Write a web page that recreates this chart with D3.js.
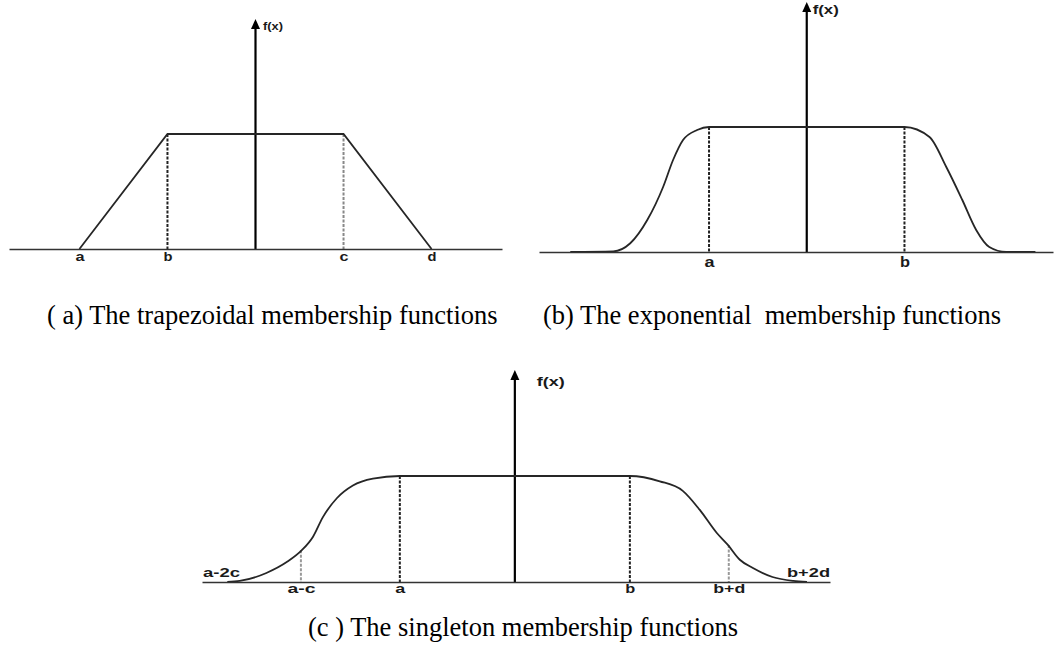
<!DOCTYPE html>
<html>
<head>
<meta charset="utf-8">
<script src="https://cdn.jsdelivr.net/npm/d3@7"></script>
<style>
  body { margin: 0; background: #fff; }
  svg { display: block; }
  .caption { font-family: "Times New Roman", "Liberation Serif", serif; font-size: 26.5px; fill: #000; white-space: pre; }
  .lbl { font-family: Arial, "Liberation Sans", sans-serif; fill: #1a1a1a; font-weight: bold; }
</style>
</head>
<body>
<div id="wrapper"></div>
<script>
// (a) trapezoidal membership function
const trapBreaks = [-10, -5, 5, 10];
const trapValues = [0, 1, 1, 0];
const trapTicks = ['a', 'b', 'c', 'd'];

// (b) exponential membership function
const expX = [-12.1, -9.9, -9.03, -8.16, -7.35, -6.84, -6.33, -5.61, -5,
  5, 6.28, 7.14, 7.96, 8.67, 9.34, 10.2, 11.7];
const expY = [0, 0.005, 0.07, 0.256, 0.52, 0.736, 0.896, 0.976, 1,
  1, 0.92, 0.68, 0.416, 0.176, 0.04, 0, 0];
const expTickX = [-5, 5];
const expTicks = ['a', 'b'];

// (c) singleton membership function
const singX = [-12.5, -11.96, -10.8, -9.9, -9.26, -8.78, -8.35, -7.74, -7.04, -6.17, -5,
  5, 6.3, 7.3, 8.04, 8.78, 9.26, 9.78, 10.35, 11.2, 12.1, 12.7];
const singY = [0, 0.01, 0.085, 0.19, 0.30, 0.425, 0.61, 0.79, 0.91, 0.975, 1,
  1, 0.95, 0.86, 0.68, 0.462, 0.35, 0.21, 0.132, 0.047, 0.01, 0];
const singTickX = [-9.3, -5, 5, 9.3];
const singTicks = ['a-c', 'a', 'b', 'b+d'];
const singGuideTop = [0.30, 1, 1, 0.35];
const singEnds = ['a-2c', 'b+2d'];

const captions = [
  '( a) The trapezoidal membership functions',
  '(b) The exponential  membership functions',
  '(c ) The singleton membership functions',
];

const width = 1057;
const height = 651;

const svg = d3
  .select('#wrapper')
  .append('svg')
  .attr('width', width)
  .attr('height', height);

svg.append('rect').attr('width', width).attr('height', height).attr('fill', '#fff');

// draws axes + curve + guides for one panel
function drawPanel(p) {
  const xScale = d3.scaleLinear().domain(p.xDomain).range(p.xRange);
  const yScale = d3.scaleLinear().domain([0, 1]).range(p.yRange);
  const g = svg.append('g');

  // vertical axis with arrow
  const x0 = xScale(0);
  const top = yScale(2);
  g.append('line')
    .attr('x1', x0).attr('x2', x0)
    .attr('y1', yScale(0)).attr('y2', top + 6)
    .attr('stroke', '#000')
    .attr('stroke-width', 2.2);
  const arrow = d3.path();
  arrow.moveTo(x0, top);
  arrow.lineTo(x0 - 4.5, top + 10);
  arrow.lineTo(x0 + 4.5, top + 10);
  arrow.closePath();
  g.append('path').attr('d', arrow.toString()).attr('fill', '#000');

  g.append('text')
    .attr('class', 'lbl')
    .attr('x', x0 + p.fxDx)
    .attr('y', top + p.fxDy)
    .attr('font-size', p.fxSize)
    .attr('font-weight', 'normal')
    .attr('textLength', p.fxLen)
    .attr('lengthAdjust', 'spacingAndGlyphs')
    .text('f(x)');

  // dashed guides
  g.selectAll('.guide')
    .data(p.guides)
    .join('line')
    .attr('x1', (d) => xScale(d.x))
    .attr('x2', (d) => xScale(d.x))
    .attr('y1', (d) => yScale(d.top))
    .attr('y2', yScale(0))
    .attr('stroke', (d) => d.color)
    .attr('stroke-width', 2)
    .attr('stroke-dasharray', '3,1.5');

  // membership curve
  const lineGenerator = d3
    .line()
    .x((d) => xScale(d[0]))
    .y((d) => yScale(d[1]))
    .curve(p.curve);
  g.append('path')
    .attr('d', lineGenerator(d3.zip(p.xs, p.ys)))
    .attr('fill', 'none')
    .attr('stroke', '#262626')
    .attr('stroke-width', 1.8);

  // horizontal axis with letter ticks
  const xAxis = d3
    .axisBottom(xScale)
    .tickValues(p.tickX)
    .tickFormat((d, i) => p.ticks[i])
    .tickSize(0)
    .tickSizeOuter(0)
    .tickPadding(p.tickPad);
  const ax = g.append('g')
    .attr('transform', `translate(0, ${yScale(0)})`)
    .call(xAxis);
  ax.select('.domain').attr('stroke', '#333').attr('stroke-width', 1.7);
  ax.selectAll('text')
    .attr('class', 'lbl')
    .attr('font-size', p.tickSize)
    .attr('textLength', (d, i) => p.tickLen[i])
    .attr('lengthAdjust', 'spacingAndGlyphs');

  return { g, xScale, yScale };
}

// (a)
drawPanel({
  xDomain: [-14, 14], xRange: [9, 502], yRange: [249, 134],
  xs: trapBreaks, ys: trapValues, curve: d3.curveLinear,
  guides: [
    { x: trapBreaks[1], top: 1, color: '#222' },
    { x: trapBreaks[2], top: 1, color: '#888' },
  ],
  tickX: trapBreaks, ticks: trapTicks, tickPad: 3, tickSize: 13, tickLen: [9, 9, 9, 9],
  fxDx: 7.5, fxDy: 11, fxSize: 10, fxLen: 20,
});

// (b)
drawPanel({
  xDomain: [-13.7, 12.6], xRange: [539, 1053], yRange: [252, 127],
  xs: expX, ys: expY, curve: d3.curveMonotoneX,
  guides: expTickX.map((x) => ({ x, top: 1, color: '#222' })),
  tickX: expTickX, ticks: expTicks, tickPad: 4.5, tickSize: 15, tickLen: [10, 10],
  fxDx: 6, fxDy: 12, fxSize: 12, fxLen: 26,
});

// (c)
const c = drawPanel({
  xDomain: [-13.6, 13.7], xRange: [202, 830], yRange: [582, 476],
  xs: singX, ys: singY, curve: d3.curveMonotoneX,
  guides: singTickX.map((x, i) => ({
    x, top: singGuideTop[i], color: singGuideTop[i] < 1 ? '#999' : '#222',
  })),
  tickX: singTickX, ticks: singTicks, tickPad: 2.5, tickSize: 12, tickLen: [28, 10, 10, 32],
  fxDx: 22, fxDy: 16, fxSize: 13, fxLen: 28,
});

// end labels above the baseline in (c)
const endDomain = c.xScale.domain();
c.g.selectAll('.endLabel')
  .data(singEnds)
  .join('text')
  .attr('class', 'lbl')
  .attr('x', (d, i) => c.xScale(endDomain[i]) + (i === 0 ? 1 : 0))
  .attr('y', c.yScale(0) - 5)
  .attr('text-anchor', (d, i) => (i === 0 ? 'start' : 'end'))
  .attr('font-size', 12)
  .attr('textLength', (d, i) => [37, 43][i])
  .attr('lengthAdjust', 'spacingAndGlyphs')
  .text((d) => d);

// captions
const capPos = [[47, 324], [543, 324], [308, 636]];
svg.selectAll('.caption')
  .data(captions)
  .join('text')
  .attr('class', 'caption')
  .attr('x', (d, i) => capPos[i][0])
  .attr('y', (d, i) => capPos[i][1])
  .text((d) => d);
</script>
</body>
</html>
